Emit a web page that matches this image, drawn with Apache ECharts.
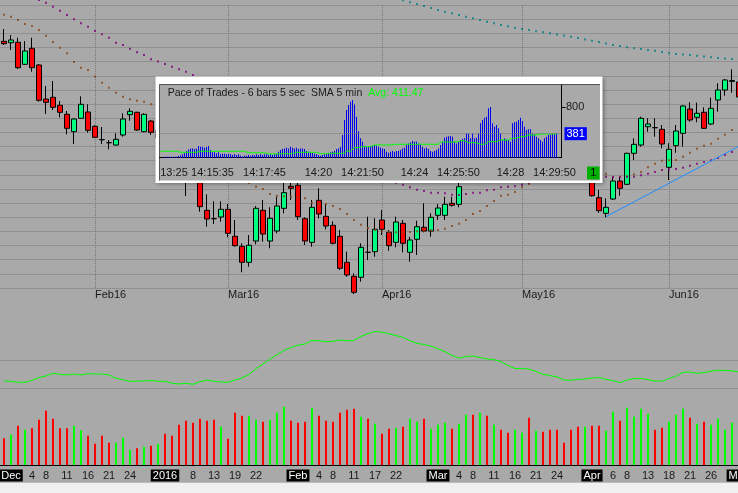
<!DOCTYPE html>
<html><head><meta charset="utf-8">
<script src="https://cdn.jsdelivr.net/npm/echarts@6/dist/echarts.min.js"></script>
<style>html,body{margin:0;padding:0;background:#a9a9a9;}#c{width:738px;height:493px;}</style>
</head><body><div id="c"></div>
<script>
// ---- main price panel: [open, close, low, high] ----
const candles = [
[246.7,244.3,243,259],[245.3,248,238,253],[245.7,220.3,219,250.3],[223.7,237,223,247],[239.7,220.3,216.3,250.3],
[223,187.7,186.3,224],[189,185.7,174,202],[190.7,180.7,178,207],[182.7,175.7,170.7,187],[173.7,159.7,153.7,177],
[156.3,169,144,169.5],[169.7,183.7,169.7,191.7],[176,157.7,155.3,183.7],[161.7,150.7,150,162.7],[148.3,148.3,144,161],
[145.3,145.3,138.7,148],[143,148.7,142.3,154.7],[153,169,151.3,174.7],[173.3,176.7,167.3,179.7],[175.7,158,157.3,176.3],
[156.3,173.7,155.7,174.7],[167,155.7,153,168],[150,158,147,162],[157,140,136,160],[141,128,124,145],
[129,115,110,132],[116,107,92,119],[112,108,106,118],[110,81.3,76.3,114],[77.7,69,61.3,93.7],
[69.3,69.3,64,86.7],[71,78.7,66.3,86.7],[78.7,54.7,50.7,84],[51.7,42.3,41.3,68],[41.7,25.7,15.7,44.7],
[25.7,42.7,21.3,53],[47,79.7,43.7,82],[77.7,54,46.3,88],[47,69.7,39.7,80.7],[57,82,54.7,91.3],
[79.7,95.3,74.7,110],[101.7,99.7,88,112],[102.7,71.3,68,108],[69.3,47,43,70.7],[45.7,80.7,41.3,88],
[87.7,74,69.7,99.7],[71.7,62,58.7,84],[62.7,44.7,43.7,66.7],[51.7,19.7,18,58],[25.7,13,11.3,36.3],
[11.7,-4.3,-6,14.7],[10.7,40.7,6.3,44.7],[35.7,35.7,28,71.3],[36.3,58.7,31.3,69.7],[68,58.7,53,78],
[55.7,42.3,37.3,58],[45.7,66,40.7,71.3],[64.7,44.7,35.7,68],[35.7,48,26.3,51.3],[48.7,61.3,33,67.3],
[60.7,57,55.7,84.7],[57,70.7,51.3,74.7],[72.7,80,68,84],[72.7,83.7,68,91.3],[84.7,82.7,81.3,91.3],
[83.7,101.3,80.7,106],[106,116,105,121],[118,112,108,124],[112,126,110,129],[127,120,116,131],
[120,134,118,137],[135,128,124,139],[128,121,117,131],[121,136,119,140],[136,147,133,151],
[148,138,135,152],[138,152,136,156],[152,145,141,158],[145,136,132,148],[136,128,124,140],
[128,124,120,131],[124,116,112,128],[116,108,106,120],[108,114,106,117],[114,92.3,91.3,118],
[90.3,77.3,75.3,98],[74.7,80.7,70.7,89.7],[89,107,88,111.3],[107,99.7,92.3,111.3],[103.7,134.7,103,135.3],
[134.7,143.7,128,149.7],[143,169.7,141.3,171.3],[161.3,164,156.3,169.7],[160.3,160.3,151.3,169.7],[158.7,144,139.7,163],
[120.7,138.7,108,144.7],[142.3,157,135.3,163],[154.7,182,141.3,182.7],[179,168,166.3,185.7],[170.7,174.7,165.7,185.3],
[175.7,159.7,159,180.7],[164,179.7,163,190.3],[188,198,176.3,204.7],[198,208,192.3,209],[206.6,207.4,195.3,218.7],
[206,191,189.7,206.3]
];
const maBrown = [
273.3,271.3,268,264,262,258,252.3,246,240.3,234.7,
226,220.3,218,211.3,205.3,200.3,195.3,191.3,188.7,187.3,
186.3,183.7,180,175,170,164,158,151,144,137,
130,124,118,113,108.5,105,101.3,99,94,92.3,
91.8,91.3,90.5,89.7,85.3,84,84,82,79,74,
68,63.3,60,58,56.5,56,55.7,55.7,56,56.7,
57.3,57.7,58,59.3,62,64.3,68,74,77,82,
87,92.3,93.3,96,100.7,104,107,108.5,110,111,
112,112.5,113,113.5,113.7,114,114.3,111.3,111.3,112,
113.7,116,120.7,124.3,127.3,127.7,128,131.3,135.3,139.3,
142.3,144.3,149.3,153.3,158,162];
const maPurple = [
305,302,298.5,295,291.5,288,285.3,281.3,277.3,273,
268.7,264.7,261.3,257,253.7,250.3,245.3,243,239.3,235.7,
233,228.7,226.5,224,221.3,218.7,216.3,213,209.7,206.3,
203,199.5,196,192.5,189,185.5,182,178.5,175,171.5,
168,164.5,161,157.5,154,150.5,147,143,139,135,
131,127,123,118,113.5,109.3,105.3,103.3,100.7,98.3,
97,95.3,95.3,94.7,93.3,93,94,95.3,95.3,97.7,
98.3,100.7,101.3,101.7,103.3,105.3,106.5,107.5,108.3,109,
109.5,110,110.3,110.5,110.7,111,111.3,110.7,110.7,111,
111.3,112.7,114.3,116,118,118.7,119,120.3,122.3,124.3,
126,127.7,130,133,136,139];
const maTeal = [
null,null,null,null,null,null,null,null,null,null,
null,null,null,null,null,null,null,null,null,null,
null,null,null,null,null,null,null,null,null,null,
null,null,null,null,null,null,null,null,null,null,
null,null,null,null,null,null,null,null,null,null,
null,null,null,null,null,null,290,287.7,285.8,284,
282,280,278,276.3,274.7,273,271.3,269.7,268,266.3,
264.7,263,261.7,260.3,259,257.9,256.8,255.8,254.7,253.6,
252.5,251.3,250,248.6,247.3,245.9,244.4,243,241.9,240.8,
239.7,238.9,238.1,237.3,236,234.7,234.1,233.6,233,232.2,
231.5,230.7,230,229.5,229,228.5];
const trendPoints = [[86, 71.3], [105, 141.8]];
const priceTickIdx = [13, 32, 54, 74, 95];
const priceTickText = ['Feb16', 'Mar16', 'Apr16', 'May16', 'Jun16'];

// ---- oscillator panel ----
const oscLine = [
7,6.7,5.7,5.7,7.7,10.5,12,14.7,13.7,13,
14,13,14.3,14,14,13,9.7,8.3,6.7,6.7,
7,7.5,6.7,6.7,4.7,4,4.7,3.7,6.3,8,
6.7,6,5.7,8,10,13.5,19.3,24,29,33.3,
37.7,40.3,43,44,47.5,47.3,46.3,46.7,48,47.3,
47.5,51.7,54.3,56.5,55.8,54.2,52.4,50.7,47.2,44.6,
43.5,41.8,39.1,36.3,32.5,29.8,31.5,32,30.5,29.1,
28.4,26.3,22.5,19.5,19.6,18.8,16.5,13.7,12.3,11.2,
8,7.9,8.7,9,10,10.5,8.7,7.4,5.4,8.1,
9.3,9.6,8.4,6.9,6.9,9.4,11.9,15.7,16,14.7,
15.4,16.8,17.7,17.6,17.2,16.1];

// ---- volume panel ----
const volume = [
26.7,30.3,39.3,35.3,36.7,45.3,54.3,46.3,36.7,36.7,
39.3,34.7,29.3,21.3,29.3,22.3,22.3,27.3,15.3,16.7,
18.3,19.3,21.3,31.3,29.3,40.3,44.3,42.3,46.3,44.3,
45.3,38.3,26.3,52.3,49.3,49.3,45.3,43.3,45.3,52.3,
58.3,44.3,42.3,43.3,57.3,49.3,44.3,43.3,52.3,55.3,
56.3,48.3,46.3,41.3,31.3,36.3,37.3,38.3,46.3,43.3,
46.3,36.3,40.3,42.3,36.3,41.3,50.3,50.3,52.3,49.3,
40.3,35.3,32.3,35.3,32.3,47.3,34.3,33.3,35.3,35.3,
22.3,35.3,38.3,38.3,39.3,39.3,34.3,53.3,44.3,57.3,
48.3,56.3,51.3,35.3,37.3,43.3,50.3,56.3,47.3,41.3,
43.3,40.3,46.3,35.3,42.3,38];
const dateTickIdx = [1,4,6,9,12,15,18,23,27,30,33,36,42,45,47,50,53,56,62,65,67,70,73,76,79,84,87,89,92,95,98,101,105];
const dateTickText = ['Dec','4','8','11','16','21','24','2016','8','13','19','22','Feb','4','8','11','17','22','Mar','4','8','11','16','21','24','Apr','6','8','13','18','21','26','May'];
const monthTexts = ['Dec','2016','Feb','Mar','Apr','May'];

// ---- inset: Pace of Trades ----
const paceBars = [
0,0,16,16,16,16,16,16,16,26,
37,53,69,106,132,148,148,138,148,185,
175,175,159,169,185,122,85,85,69,85,
53,63,63,53,63,53,42,53,42,53,
32,21,32,32,42,32,42,42,53,42,
53,42,53,53,42,53,42,53,63,95,
122,138,148,159,148,175,159,148,159,138,
148,148,138,106,95,85,74,63,53,42,
32,42,53,63,74,85,95,106,138,148,
175,360,598,756,836,889,915,846,650,420,
307,254,190,175,175,185,190,201,190,175,
159,148,138,95,79,95,106,95,106,111,
122,148,159,201,227,243,265,254,254,227,
201,175,148,159,138,106,95,106,122,148,
201,254,317,333,339,344,333,254,227,254,
280,296,307,386,386,307,386,307,317,386,
545,598,635,651,783,804,545,492,518,466,
386,280,307,291,280,254,545,561,571,598,
635,582,492,439,450,450,386,370,333,307,
280,254,307,333,360,370,381,381,381];
const paceSma = [
102,102,102,102,102,102,102,102,102,102,
86,86,86,86,86,86,86,86,86,86,
102,102,102,102,102,102,102,102,102,102,
102,102,102,102,102,102,102,102,102,102,
102,102,102,79,79,79,79,79,79,79,
79,79,79,79,59,59,59,59,59,63,
63,63,63,63,63,63,63,86,86,86,
86,86,86,86,86,86,86,86,86,63,
63,63,63,63,63,63,70,70,70,70,
70,70,70,106,106,106,106,159,159,159,
159,175,175,175,175,175,175,202,202,202,
202,202,202,202,202,202,202,213,213,213,
213,213,213,213,213,213,213,213,213,213,
213,213,213,213,213,213,213,213,213,213,
249,249,249,249,249,249,249,249,249,249,
270,270,270,270,238,238,238,238,238,213,
213,213,213,213,254,254,254,254,254,254,
281,281,281,281,281,308,308,308,308,308,
333,333,333,333,360,360,360,360,360,376,
376,376,376,376,376,376,376,376,376];
const paceLast = 381;
const paceAvgText = 'Avg: 411.47';
const paceTitle = 'Pace of Trades - 6 bars 5 sec  SMA 5 min';
const paceTickTimes = ['14:13:25','14:15:35','14:17:45','14:20:00','14:21:50','14:24:00','14:25:50','14:28:00','14:29:50'];
const paceTickText = ['13:25','14:15:35','14:17:45','14:20','14:21:50','14:24','14:25:50','14:28','14:29:50'];
const paceYTicks = [800];
const paceStart = '14:13:25', paceSlots = 201, paceStep = 5;

// ---- build categories ----
const categories = candles.map((c, i) => 'd' + i);
const pad = n => String(n).padStart(2, '0');
const st = paceStart.split(':').map(Number);
const s0 = st[0] * 3600 + st[1] * 60 + st[2];
const paceCats = [];
for (let k = 0; k < paceSlots; k++) {
  const s = s0 + k * paceStep;
  paceCats.push(pad(Math.floor(s / 3600)) + ':' + pad(Math.floor(s / 60) % 60) + ':' + pad(s % 60));
}
const paceTickIdx = paceTickTimes.map(t => paceCats.indexOf(t));

const UP = '#00ff80', DOWN = '#ff0000';
const FONT = 'Liberation Sans';
const GRIDC = '#767676';
const trendData = trendPoints.map(p => [categories[p[0]], p[1]]);
const volData = volume.map((v, i) => ({ value: v, itemStyle: { color: candles[i][1] > candles[i][0] ? '#00ff00' : '#ff0000' } }));

const chart = echarts.init(document.getElementById('c'), null, { renderer: 'canvas' });
chart.setOption({
  animation: false,
  backgroundColor: '#a9a9a9',
  textStyle: { fontFamily: FONT },
  title: [
    { text: paceTitle, left: 167.7, top: 87.5, padding: 0, z: 12,
      textStyle: { fontSize: 10.5, fontWeight: 'normal', color: '#1a1a1a', fontFamily: FONT } },
    { text: paceAvgText, left: 368.3, top: 87.5, padding: 0, z: 12,
      textStyle: { fontSize: 10.5, fontWeight: 'normal', color: '#00ff00', fontFamily: FONT } }
  ],
  grid: [
    { left: 0.5, top: 5, width: 742, height: 283, outerBoundsMode: 'none', containLabel: false },
    { left: 159.5, top: 85, width: 402, height: 72.7, outerBoundsMode: 'none', containLabel: false },
    { left: 0.5, top: 360, width: 742, height: 28, outerBoundsMode: 'none', containLabel: false },
    { left: 0.5, top: 400, width: 742, height: 65, outerBoundsMode: 'none', containLabel: false }
  ],
  xAxis: [
    { type: 'category', gridIndex: 0, data: categories,
      axisLine: { show: false }, axisTick: { show: false }, splitLine: { show: false },
      axisLabel: { interval: i => priceTickIdx.includes(i), formatter: (v, i) => priceTickText[priceTickIdx.indexOf(i)],
        align: 'left', margin: 1, color: '#1a1a1a', fontSize: 11, fontFamily: FONT } },
    { type: 'category', gridIndex: 1, data: paceCats, z: 10,
      axisLine: { lineStyle: { color: '#000', width: 1 } },
      axisTick: { alignWithLabel: true, interval: i => paceTickIdx.includes(i), length: 4, lineStyle: { color: '#000' } },
      splitLine: { show: false },
      axisLabel: { interval: i => paceTickIdx.includes(i), margin: 9.5, color: '#1a1a1a', fontSize: 11, fontFamily: FONT,
        formatter: (v, i) => { const n = paceTickIdx.indexOf(i); return n === 0 ? '{f|' + paceTickText[0] + '}' : paceTickText[n]; },
        rich: { f: { padding: [0, 0, 0, 27], fontSize: 11, color: '#1a1a1a', fontFamily: FONT } } } },
    { type: 'category', gridIndex: 2, data: categories, show: false },
    { type: 'category', gridIndex: 3, data: categories,
      axisLine: { lineStyle: { color: '#000', width: 1 } },
      axisTick: { alignWithLabel: true, interval: i => dateTickIdx.includes(i), length: 4, lineStyle: { color: '#000' } },
      splitLine: { show: false },
      axisLabel: { interval: i => dateTickIdx.includes(i), margin: 5, fontSize: 11, fontFamily: FONT, color: '#1a1a1a',
        formatter: (v, i) => { const t = dateTickText[dateTickIdx.indexOf(i)]; return monthTexts.includes(t) ? '{m|' + t + '}' : '{d|' + t + '}'; },
        rich: {
          m: { backgroundColor: '#000', color: '#fff', padding: [1, 2, 0, 2], fontSize: 11, lineHeight: 11, fontFamily: FONT },
          d: { color: '#1a1a1a', padding: [1, 0, 0, 0], fontSize: 11, lineHeight: 11, fontFamily: FONT }
        } } }
  ],
  yAxis: [
    { type: 'value', gridIndex: 0, min: 0, max: 283, interval: 14.15,
      axisLabel: { show: false }, axisLine: { show: false }, axisTick: { show: false },
      splitLine: { lineStyle: { color: GRIDC, type: [1, 1], width: 1 } } },
    { type: 'value', gridIndex: 1, position: 'right', min: 0, max: 1154, interval: 800, z: 10,
      axisLine: { show: true, lineStyle: { color: '#000' } },
      axisTick: { show: true, length: 4, customValues: paceYTicks, lineStyle: { color: '#000' } },
      axisLabel: { customValues: paceYTicks, formatter: v => (paceYTicks.includes(v) ? String(v) : ''), margin: 4.5, color: '#1a1a1a', fontSize: 11, fontFamily: FONT },
      splitLine: { show: false } },
    { type: 'value', gridIndex: 2, min: 0, max: 28, interval: 28,
      axisLabel: { show: false }, axisLine: { show: false }, axisTick: { show: false },
      splitLine: { lineStyle: { color: GRIDC, type: [1, 1], width: 1 } } },
    { type: 'value', gridIndex: 3, min: 0, max: 65, show: false, splitLine: { show: false } }
  ],
  graphic: { elements: [
    { type: 'rect', z: 5, shape: { x: 155.5, y: 76.5, width: 447, height: 106.5 },
      style: { fill: '#ffffff', shadowBlur: 4, shadowColor: 'rgba(0,0,0,0.35)', shadowOffsetX: 1, shadowOffsetY: 1 } },
    { type: 'rect', z: 6, shape: { x: 159, y: 84.5, width: 441, height: 96 }, style: { fill: '#a9a9a9' } },
    { type: 'polyline', z: 7, shape: { points: [[159.5, 180.5], [159.5, 84.5], [600, 84.5]] },
      style: { stroke: '#555', lineWidth: 1, fill: null } },
    { type: 'rect', z: 12, shape: { x: 587, y: 166.5, width: 12.5, height: 13 }, style: { fill: '#00b000' } },
    { type: 'text', z: 13, x: 593.3, y: 173.3,
      style: { text: '1', fill: '#000', font: '11px "Liberation Sans"', align: 'center', verticalAlign: 'middle' } },
    { type: 'rect', z: 1, shape: { x: 0, y: 482.7, width: 738, height: 11 }, style: { fill: '#f0f0f0' } }
  ] },
  series: [
    { type: 'candlestick', xAxisIndex: 0, yAxisIndex: 0, data: candles, barWidth: 5, clip: false,
      itemStyle: { color: UP, color0: DOWN, borderColor: '#000', borderColor0: '#000', borderWidth: 1 },
      markLine: { silent: true, z: 1, symbol: ['none', 'none'], label: { show: false },
        lineStyle: { color: GRIDC, type: [1, 1], width: 1 },
        data: priceTickIdx.map(i => ({ xAxis: categories[i] })) } },
    { type: 'scatter', xAxisIndex: 0, yAxisIndex: 0, data: maBrown, symbol: 'rect', symbolSize: 2, clip: false, silent: true,
      itemStyle: { color: '#8b4513' } },
    { type: 'scatter', xAxisIndex: 0, yAxisIndex: 0, data: maPurple, symbol: 'rect', symbolSize: 2, clip: false, silent: true,
      itemStyle: { color: '#800080' } },
    { type: 'scatter', xAxisIndex: 0, yAxisIndex: 0, data: maTeal, symbol: 'rect', symbolSize: 2, clip: false, silent: true,
      itemStyle: { color: '#008080' } },
    { type: 'line', xAxisIndex: 0, yAxisIndex: 0, data: trendData, showSymbol: false, symbol: 'none', clip: false,
      lineStyle: { color: '#1e8fff', width: 1 } },
    { type: 'bar', xAxisIndex: 1, yAxisIndex: 1, data: paceBars, barWidth: 1, z: 10,
      itemStyle: { color: '#0000ee' },
      markLine: { silent: true, z: 12, symbol: ['none', 'none'], data: [{ yAxis: paceLast }],
        lineStyle: { color: GRIDC, type: [1, 1], width: 1 },
        label: { show: true, position: 'end', distance: 3, formatter: String(paceLast), color: '#fff',
          backgroundColor: '#0000ff', padding: [1, 2], fontSize: 11, fontFamily: FONT } } },
    { type: 'line', xAxisIndex: 1, yAxisIndex: 1, data: paceSma, z: 11, symbol: 'none', showSymbol: false,
      lineStyle: { color: '#00ff00', width: 1 } },
    { type: 'line', xAxisIndex: 2, yAxisIndex: 2, data: oscLine, symbol: 'none', showSymbol: false, clip: false,
      lineStyle: { color: '#00ff00', width: 1 } },
    { type: 'bar', xAxisIndex: 3, yAxisIndex: 3, data: volData, barWidth: 2 }
  ]
});
</script></body></html>
